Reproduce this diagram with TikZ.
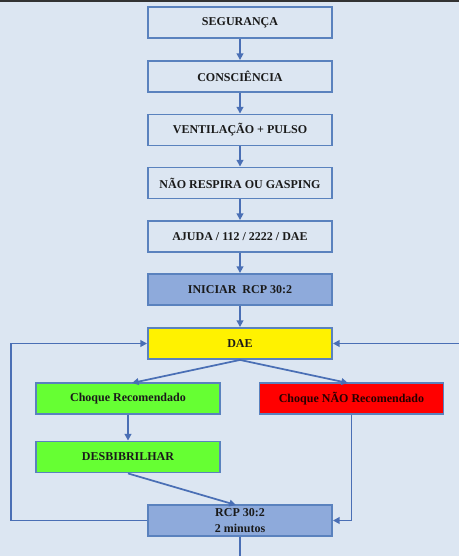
\documentclass[tikz,border=0pt]{standalone}
\usepackage{fontspec}
\setmainfont{Liberation Serif}
\usetikzlibrary{arrows.meta}
\definecolor{bg}{HTML}{DCE6F2}
\definecolor{edge}{HTML}{5A82BE}
\definecolor{wire}{HTML}{4A6FB5}
\definecolor{rcpblue}{HTML}{8EAADB}
\definecolor{shockgreen}{HTML}{66FF33}
\definecolor{txt}{HTML}{1A1A1A}
\tikzset{
  box/.style={draw=edge, line width=1.4pt, fill=bg, minimum width=184*0.75pt,
    minimum height=31*0.75pt, inner sep=0pt, font=\bfseries\fontsize{9}{11}\selectfont,
    text=txt, align=center},
  flow/.style={draw=wire, line width=1.3pt, -{Triangle[length=5pt,width=5pt]}},
  plain/.style={draw=wire, line width=1.3pt}
}
\begin{document}
\begin{tikzpicture}[x=0.75pt, y=-0.75pt]
  % page background and top bar
  \fill[bg] (0,0) rectangle (459,556);
  \fill[black!80] (0,0) rectangle (459,2.5);
  \useasboundingbox (0,0) rectangle (459,556);

  % main column
  \node[box] (seg) at (240,22.5) {SEGURANÇA};
  \node[box] (con) at (240,76.5) {CONSCIÊNCIA};
  \node[box] (ven) at (240,130) {VENTILAÇÃO + PULSO};
  \node[box] (nao) at (240,183) {NÃO RESPIRA OU GASPING};
  \node[box] (aju) at (240,236.5) {AJUDA / 112 / 2222 / DAE};
  \node[box, fill=rcpblue] (ini) at (240,289.5) {INICIAR~ RCP 30:2};
  \node[box, fill=yellow] (dae) at (240,343.5) {DAE};

  % shock branches
  \node[box, fill=shockgreen] (rec) at (128,398.5) {Choque Recomendado};
  \node[box, fill=red, text=black!85!red] (nrec) at (351.5,398.5) {Choque NÃO Recomendado};
  \node[box, fill=shockgreen] (des) at (128,457) {DESBIBRILHAR};
  \node[box, fill=rcpblue, font=\bfseries\fontsize{9}{12.5}\selectfont] (rcp) at (240,520.5) {RCP 30:2\\2 minutos};

  % loop corners and free ends
  \coordinate (lc) at (11,520.5);
  \coordinate (lt) at (11,343.5);
  \coordinate (rin) at (459,343.5);
  \coordinate (out) at (240,556);

  % connectors
  \draw[flow] (seg) -- (con);
  \draw[flow] (con) -- (ven);
  \draw[flow] (ven) -- (nao);
  \draw[flow] (nao) -- (aju);
  \draw[flow] (aju) -- (ini);
  \draw[flow] (ini) -- (dae);
  \draw[flow] (dae.south) -- (132,383);
  \draw[flow] (dae.south) -- (348,383);
  \draw[flow] (rec) -- (des);
  \draw[flow] (des.south) -- (236,505);
  \draw[flow] (nrec.south) |- (rcp.east);
  \draw[flow] (rcp.west) -- (lc) -- (lt) -- (dae.west);
  \draw[flow] (rin) -- (dae.east);
  \draw[plain] (rcp.south) -- (out);
\end{tikzpicture}
\end{document}
